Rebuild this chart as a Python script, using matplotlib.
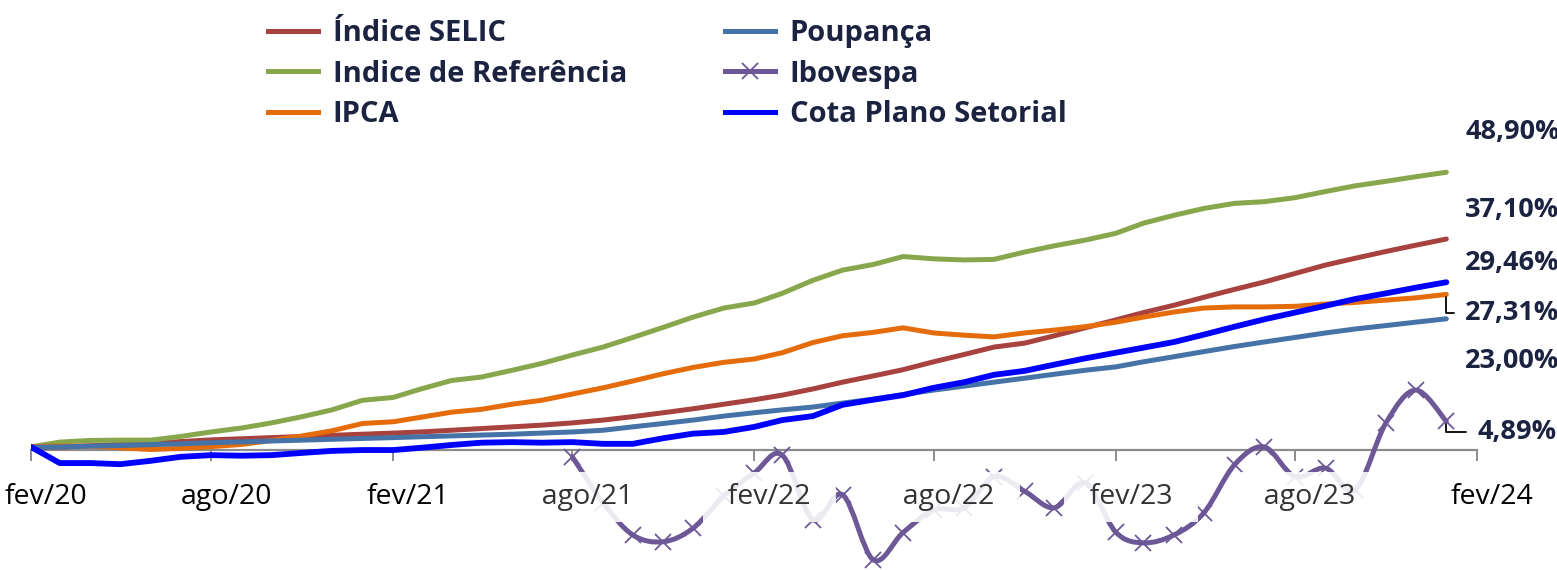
import numpy as np
import matplotlib
matplotlib.use('Agg')
import matplotlib.pyplot as plt
import matplotlib.dates as mdates
from matplotlib.path import Path
from matplotlib.patches import PathPatch
from matplotlib.lines import Line2D

plt.rcParams['font.family'] = ['Open Sans', 'DejaVu Sans']

# monthly points fev/20 .. jan/24
months = np.arange('2020-02', '2024-02', dtype='datetime64[M]').astype('datetime64[D]')
tick_months = np.arange('2020-02', '2024-03', 6, dtype='datetime64[M]').astype('datetime64[D]')
tick_labels = ['fev/20', 'ago/20', 'fev/21', 'ago/21', 'fev/22', 'ago/22', 'fev/23', 'ago/23', 'fev/24']

# accumulated returns (%)
selic = [0.3, 0.3, 0.55, 0.8, 1.0, 1.3, 1.6, 1.8, 2.0, 2.2, 2.4, 2.6,
         2.8, 3.0, 3.3, 3.6, 3.9, 4.2, 4.6, 5.1, 5.7, 6.4, 7.1, 7.9,
         8.7, 9.5, 10.6, 11.8, 12.9, 14.0, 15.4, 16.7, 18.0, 18.7, 20.0, 21.4,
         22.8, 24.1, 25.4, 26.8, 28.2, 29.5, 31.0, 32.5, 33.7, 34.9, 36.0, 37.10]
ind_ref = [0.35, 1.2, 1.5, 1.55, 1.55, 2.2, 3.0, 3.7, 4.6, 5.7, 6.9, 8.6,
           9.1, 10.6, 12.1, 12.7, 13.9, 15.1, 16.6, 18.0, 19.7, 21.5, 23.3, 24.9,
           25.8, 27.5, 29.8, 31.6, 32.6, 34.0, 33.6, 33.4, 33.5, 34.8, 35.9, 36.9,
           38.1, 39.9, 41.3, 42.5, 43.4, 43.7, 44.4, 45.5, 46.5, 47.3, 48.1, 48.90]
ipca = [0.4, 0.5, 0.5, 0.2, -0.1, 0.1, 0.4, 0.8, 1.5, 2.3, 3.2, 4.5,
        4.8, 5.6, 6.5, 7.0, 7.9, 8.6, 9.7, 10.8, 12.0, 13.3, 14.4, 15.3,
        15.9, 17.0, 18.8, 20.0, 20.6, 21.4, 20.5, 20.1, 19.8, 20.5, 21.0, 21.6,
        22.4, 23.3, 24.2, 24.9, 25.1, 25.1, 25.2, 25.6, 25.9, 26.3, 26.7, 27.31]
poupanca = [0.3, 0.35, 0.5, 0.6, 0.75, 0.9, 1.1, 1.25, 1.4, 1.55, 1.7, 1.85,
            2.0, 2.15, 2.3, 2.45, 2.6, 2.8, 3.0, 3.3, 3.9, 4.5, 5.1, 5.8,
            6.4, 6.9, 7.4, 8.1, 8.8, 9.6, 10.4, 11.1, 11.8, 12.5, 13.2, 13.9,
            14.5, 15.4, 16.3, 17.2, 18.1, 18.9, 19.7, 20.5, 21.2, 21.8, 22.4, 23.00]
cota = [0.35, -2.5, -2.5, -2.7, -2.1, -1.4, -1.1, -1.2, -1.1, -0.7, -0.35, -0.2,
        -0.2, 0.2, 0.7, 1.1, 1.2, 1.1, 1.2, 0.9, 0.9, 1.9, 2.7, 3.0,
        3.9, 5.1, 5.8, 7.8, 8.7, 9.5, 10.8, 11.8, 13.1, 13.8, 14.9, 16.0,
        17.0, 17.9, 18.9, 20.2, 21.6, 22.9, 24.1, 25.3, 26.5, 27.5, 28.5, 29.46]
# Ibovespa only from ago/21
ibov_start = 18
ibovespa = [-1.4, -9.5, -15.2, -16.4, -14.0, -8.3, -4.2, -1.1, -12.5, -8.1, -19.6, -14.8,
            -10.8, -10.4, -4.9, -7.5, -10.4, -6.0, -14.7, -16.6, -15.2, -11.3, -2.8, 0.35,
            -4.9, -3.4, -7.2, 4.6, 10.4, 4.89]

c_selic = '#A8423F'
c_ref = '#88A64B'
c_ipca = '#E46C0A'
c_poup = '#4572A7'
c_ibov = '#6C5896'
c_cota = '#0000FF'
txt_color = '#1B2341'

fig = plt.figure(figsize=(15.57, 5.70), dpi=100)
ax = fig.add_axes([31 / 1557, 0, 1446 / 1557, 430 / 570])

lw = 3.6
ax.plot(months, selic, color=c_selic, lw=lw, solid_capstyle='round', zorder=2)
ax.plot(months, ind_ref, color=c_ref, lw=lw, solid_capstyle='round', zorder=2)
ax.plot(months, ipca, color=c_ipca, lw=lw, solid_capstyle='round', zorder=2)
ax.plot(months, poupanca, color=c_poup, lw=lw, solid_capstyle='round', zorder=2)

# smoothed Ibovespa curve (catmull-rom -> bezier)
xi = mdates.date2num(months[ibov_start:])
P = np.column_stack([xi, ibovespa])
n = len(P)
verts = [P[0]]
codes = [Path.MOVETO]
for i in range(n - 1):
    p0 = P[i - 1] if i > 0 else P[i]
    p1 = P[i]
    p2 = P[i + 1]
    p3 = P[i + 2] if i + 2 < n else P[i + 1]
    verts += [p1 + (p2 - p0) / 6, p2 - (p3 - p1) / 6, p2]
    codes += [Path.CURVE4] * 3
ax.add_patch(PathPatch(Path(verts, codes), fill=False, edgecolor=c_ibov, lw=lw,
                       capstyle='round', zorder=2))
ax.plot(months[ibov_start:], ibovespa, ls='none', marker='x', ms=12, mew=1.3,
        color=c_ibov, zorder=2)

ax.plot(months, cota, color=c_cota, lw=4.2, solid_capstyle='round', zorder=2.1)

ax.set_xlim(tick_months[0], tick_months[-1])
ax.set_ylim(-21.4, 54.6)

for s in ['top', 'right', 'left']:
    ax.spines[s].set_visible(False)
ax.spines['bottom'].set_position(('data', -0.2))
ax.spines['bottom'].set_color('#8C8C8C')
ax.spines['bottom'].set_linewidth(1.6)
ax.spines['bottom'].set_zorder(1)
ax.set_yticks([])
ax.set_xticks(tick_months)
ax.set_xticklabels([])
ax.tick_params(axis='x', direction='out', length=8, width=1.4, color='#8C8C8C')

# date labels: sit a bit right of the ticks; the ones over the Ibovespa
# curve get a translucent white box
for k, (d, lab) in enumerate(zip(tick_months, tick_labels)):
    boxed = 3 <= k <= 7
    kw = {}
    if boxed:
        lab = '  ' + lab + '  '
        kw['bbox'] = dict(boxstyle='square,pad=0.38', facecolor=(1, 1, 1, 0.88), edgecolor='none')
    ax.annotate(lab, xy=(d, 0), xytext=(15, -48), textcoords='offset pixels',
                ha='center', va='center', fontsize=20.5,
                color='#333333' if boxed else 'black',
                annotation_clip=False, zorder=3, **kw)

# end labels
last = months[-1]
end_vals = [ind_ref[-1], selic[-1], cota[-1], ipca[-1], poupanca[-1], ibovespa[-1]]
offsets = [(19, 40), (19, 29), (19, 19), (19, -19), (19, -42), (31, -11)]
leader = [False, False, False, True, False, True]
for v, off, ld in zip(end_vals, offsets, leader):
    txt = ('%.2f%%' % v).replace('.', ',')
    kw = {}
    if ld:
        kw['arrowprops'] = dict(arrowstyle='-', color='black', lw=1.3,
                                connectionstyle='angle,angleA=0,angleB=90,rad=0',
                                relpos=(0, 0.5), shrinkA=6, shrinkB=2)
    ax.annotate(txt, xy=(last, v), xytext=off, textcoords='offset pixels',
                ha='left', va='center', fontsize=19.5, fontweight='bold',
                color=txt_color, annotation_clip=False, zorder=4, **kw)

# legend
handles = [
    Line2D([], [], color=c_selic, lw=lw),
    Line2D([], [], color=c_ref, lw=lw),
    Line2D([], [], color=c_ipca, lw=lw),
    Line2D([], [], color=c_poup, lw=lw),
    Line2D([], [], color=c_ibov, lw=lw, marker='x', ms=12, mew=1.3),
    Line2D([], [], color=c_cota, lw=lw),
]
labels = ['Índice SELIC', 'Indice de Referência', 'IPCA', 'Poupança', 'Ibovespa', 'Cota Plano Setorial']
leg = fig.legend(handles, labels, ncol=2, frameon=False, loc='upper left',
                 bbox_to_anchor=(268 / 1557, 1 - 19 / 570), fontsize=21,
                 handlelength=1.72, handletextpad=0.5, columnspacing=3.35,
                 labelspacing=0.4, borderpad=0, borderaxespad=0)
for t in leg.get_texts():
    t.set_fontweight('bold')
    t.set_color(txt_color)

fig.savefig('out.png', dpi=100)
